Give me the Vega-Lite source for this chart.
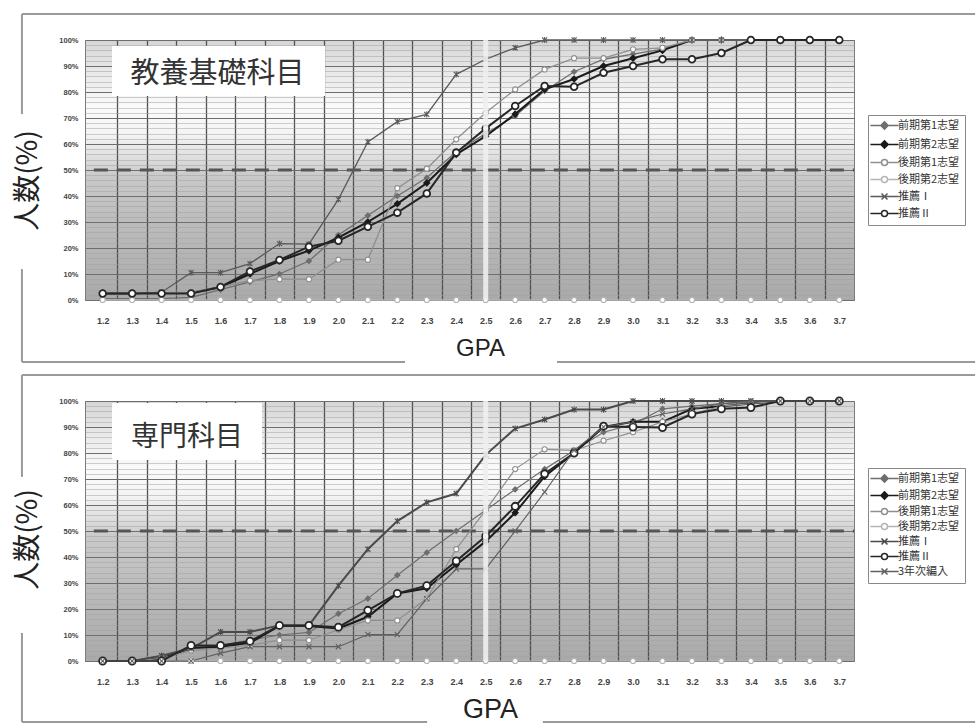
{
"$schema":"https://vega.github.io/schema/vega-lite/v6.json",
"background":"white",
"padding":{"left":13,"top":12,"right":0,"bottom":0},
"spacing":9,
"datasets":{
"top":[
{"gpa":1.2,"series":"前期第1志望","pct":0.5},{"gpa":1.3,"series":"前期第1志望","pct":0.5},{"gpa":1.4,"series":"前期第1志望","pct":0.5},{"gpa":1.5,"series":"前期第1志望","pct":1},{"gpa":1.6,"series":"前期第1志望","pct":4},{"gpa":1.7,"series":"前期第1志望","pct":7},{"gpa":1.8,"series":"前期第1志望","pct":10},{"gpa":1.9,"series":"前期第1志望","pct":15},{"gpa":2.0,"series":"前期第1志望","pct":25},{"gpa":2.1,"series":"前期第1志望","pct":32.5},{"gpa":2.2,"series":"前期第1志望","pct":40},{"gpa":2.3,"series":"前期第1志望","pct":47},{"gpa":2.4,"series":"前期第1志望","pct":57},{"gpa":2.5,"series":"前期第1志望","pct":64},{"gpa":2.6,"series":"前期第1志望","pct":70.8},{"gpa":2.7,"series":"前期第1志望","pct":80.4},{"gpa":2.8,"series":"前期第1志望","pct":87.8},{"gpa":2.9,"series":"前期第1志望","pct":92.6},{"gpa":3.0,"series":"前期第1志望","pct":94.6},{"gpa":3.1,"series":"前期第1志望","pct":96.5},{"gpa":3.2,"series":"前期第1志望","pct":100},{"gpa":3.3,"series":"前期第1志望","pct":100},{"gpa":3.4,"series":"前期第1志望","pct":100},{"gpa":3.5,"series":"前期第1志望","pct":100},{"gpa":3.6,"series":"前期第1志望","pct":100},{"gpa":3.7,"series":"前期第1志望","pct":100},
{"gpa":1.2,"series":"前期第2志望","pct":2.7},{"gpa":1.3,"series":"前期第2志望","pct":2.7},{"gpa":1.4,"series":"前期第2志望","pct":2.7},{"gpa":1.5,"series":"前期第2志望","pct":2.7},{"gpa":1.6,"series":"前期第2志望","pct":5},{"gpa":1.7,"series":"前期第2志望","pct":10},{"gpa":1.8,"series":"前期第2志望","pct":15},{"gpa":1.9,"series":"前期第2志望","pct":19},{"gpa":2.0,"series":"前期第2志望","pct":24},{"gpa":2.1,"series":"前期第2志望","pct":30},{"gpa":2.2,"series":"前期第2志望","pct":37},{"gpa":2.3,"series":"前期第2志望","pct":45},{"gpa":2.4,"series":"前期第2志望","pct":56},{"gpa":2.5,"series":"前期第2志望","pct":63},{"gpa":2.6,"series":"前期第2志望","pct":71.5},{"gpa":2.7,"series":"前期第2志望","pct":81},{"gpa":2.8,"series":"前期第2志望","pct":85},{"gpa":2.9,"series":"前期第2志望","pct":90},{"gpa":3.0,"series":"前期第2志望","pct":93},{"gpa":3.1,"series":"前期第2志望","pct":96},{"gpa":3.2,"series":"前期第2志望","pct":100},{"gpa":3.3,"series":"前期第2志望","pct":100},{"gpa":3.4,"series":"前期第2志望","pct":100},{"gpa":3.5,"series":"前期第2志望","pct":100},{"gpa":3.6,"series":"前期第2志望","pct":100},{"gpa":3.7,"series":"前期第2志望","pct":100},
{"gpa":1.2,"series":"後期第1志望","pct":2.7},{"gpa":1.3,"series":"後期第1志望","pct":2.7},{"gpa":1.4,"series":"後期第1志望","pct":2.7},{"gpa":1.5,"series":"後期第1志望","pct":3},{"gpa":1.6,"series":"後期第1志望","pct":5},{"gpa":1.7,"series":"後期第1志望","pct":7.5},{"gpa":1.8,"series":"後期第1志望","pct":8},{"gpa":1.9,"series":"後期第1志望","pct":8},{"gpa":2.0,"series":"後期第1志望","pct":15.5},{"gpa":2.1,"series":"後期第1志望","pct":15.5},{"gpa":2.2,"series":"後期第1志望","pct":43},{"gpa":2.3,"series":"後期第1志望","pct":50.5},{"gpa":2.4,"series":"後期第1志望","pct":61.8},{"gpa":2.5,"series":"後期第1志望","pct":72},{"gpa":2.6,"series":"後期第1志望","pct":81},{"gpa":2.7,"series":"後期第1志望","pct":88.7},{"gpa":2.8,"series":"後期第1志望","pct":93},{"gpa":2.9,"series":"後期第1志望","pct":93},{"gpa":3.0,"series":"後期第1志望","pct":96.4},{"gpa":3.1,"series":"後期第1志望","pct":97},{"gpa":3.2,"series":"後期第1志望","pct":100},{"gpa":3.3,"series":"後期第1志望","pct":100},{"gpa":3.4,"series":"後期第1志望","pct":100},{"gpa":3.5,"series":"後期第1志望","pct":100},{"gpa":3.6,"series":"後期第1志望","pct":100},{"gpa":3.7,"series":"後期第1志望","pct":100},
{"gpa":1.2,"series":"後期第2志望","pct":0},{"gpa":1.3,"series":"後期第2志望","pct":0},{"gpa":1.4,"series":"後期第2志望","pct":0},{"gpa":1.5,"series":"後期第2志望","pct":0},{"gpa":1.6,"series":"後期第2志望","pct":0},{"gpa":1.7,"series":"後期第2志望","pct":0},{"gpa":1.8,"series":"後期第2志望","pct":0},{"gpa":1.9,"series":"後期第2志望","pct":0},{"gpa":2.0,"series":"後期第2志望","pct":0},{"gpa":2.1,"series":"後期第2志望","pct":0},{"gpa":2.2,"series":"後期第2志望","pct":0},{"gpa":2.3,"series":"後期第2志望","pct":0},{"gpa":2.4,"series":"後期第2志望","pct":0},{"gpa":2.5,"series":"後期第2志望","pct":0},{"gpa":2.6,"series":"後期第2志望","pct":0},{"gpa":2.7,"series":"後期第2志望","pct":0},{"gpa":2.8,"series":"後期第2志望","pct":0},{"gpa":2.9,"series":"後期第2志望","pct":0},{"gpa":3.0,"series":"後期第2志望","pct":0},{"gpa":3.1,"series":"後期第2志望","pct":0},{"gpa":3.2,"series":"後期第2志望","pct":0},{"gpa":3.3,"series":"後期第2志望","pct":0},{"gpa":3.4,"series":"後期第2志望","pct":0},{"gpa":3.5,"series":"後期第2志望","pct":0},{"gpa":3.6,"series":"後期第2志望","pct":0},{"gpa":3.7,"series":"後期第2志望","pct":0},
{"gpa":1.2,"series":"推薦Ⅰ","pct":2.3},{"gpa":1.3,"series":"推薦Ⅰ","pct":2.3},{"gpa":1.4,"series":"推薦Ⅰ","pct":3},{"gpa":1.5,"series":"推薦Ⅰ","pct":10.5},{"gpa":1.6,"series":"推薦Ⅰ","pct":10.5},{"gpa":1.7,"series":"推薦Ⅰ","pct":14},{"gpa":1.8,"series":"推薦Ⅰ","pct":21.7},{"gpa":1.9,"series":"推薦Ⅰ","pct":21.5},{"gpa":2.0,"series":"推薦Ⅰ","pct":38.7},{"gpa":2.1,"series":"推薦Ⅰ","pct":60.8},{"gpa":2.2,"series":"推薦Ⅰ","pct":68.6},{"gpa":2.3,"series":"推薦Ⅰ","pct":71.4},{"gpa":2.4,"series":"推薦Ⅰ","pct":86.8},{"gpa":2.5,"series":"推薦Ⅰ","pct":92.6},{"gpa":2.6,"series":"推薦Ⅰ","pct":97},{"gpa":2.7,"series":"推薦Ⅰ","pct":100},{"gpa":2.8,"series":"推薦Ⅰ","pct":100},{"gpa":2.9,"series":"推薦Ⅰ","pct":100},{"gpa":3.0,"series":"推薦Ⅰ","pct":100},{"gpa":3.1,"series":"推薦Ⅰ","pct":100},{"gpa":3.2,"series":"推薦Ⅰ","pct":100},{"gpa":3.3,"series":"推薦Ⅰ","pct":100},{"gpa":3.4,"series":"推薦Ⅰ","pct":100},{"gpa":3.5,"series":"推薦Ⅰ","pct":100},{"gpa":3.6,"series":"推薦Ⅰ","pct":100},{"gpa":3.7,"series":"推薦Ⅰ","pct":100},
{"gpa":1.2,"series":"推薦Ⅱ","pct":2.5},{"gpa":1.3,"series":"推薦Ⅱ","pct":2.5},{"gpa":1.4,"series":"推薦Ⅱ","pct":2.5},{"gpa":1.5,"series":"推薦Ⅱ","pct":2.5},{"gpa":1.6,"series":"推薦Ⅱ","pct":5},{"gpa":1.7,"series":"推薦Ⅱ","pct":11},{"gpa":1.8,"series":"推薦Ⅱ","pct":15.4},{"gpa":1.9,"series":"推薦Ⅱ","pct":20.5},{"gpa":2.0,"series":"推薦Ⅱ","pct":22.8},{"gpa":2.1,"series":"推薦Ⅱ","pct":28.2},{"gpa":2.2,"series":"推薦Ⅱ","pct":33.6},{"gpa":2.3,"series":"推薦Ⅱ","pct":41},{"gpa":2.4,"series":"推薦Ⅱ","pct":56.7},{"gpa":2.5,"series":"推薦Ⅱ","pct":66},{"gpa":2.6,"series":"推薦Ⅱ","pct":74.6},{"gpa":2.7,"series":"推薦Ⅱ","pct":82.3},{"gpa":2.8,"series":"推薦Ⅱ","pct":82},{"gpa":2.9,"series":"推薦Ⅱ","pct":87.4},{"gpa":3.0,"series":"推薦Ⅱ","pct":90},{"gpa":3.1,"series":"推薦Ⅱ","pct":92.6},{"gpa":3.2,"series":"推薦Ⅱ","pct":92.6},{"gpa":3.3,"series":"推薦Ⅱ","pct":95},{"gpa":3.4,"series":"推薦Ⅱ","pct":100},{"gpa":3.5,"series":"推薦Ⅱ","pct":100},{"gpa":3.6,"series":"推薦Ⅱ","pct":100},{"gpa":3.7,"series":"推薦Ⅱ","pct":100}
],
"bottom":[
{"gpa":1.2,"series":"前期第1志望","pct":0},{"gpa":1.3,"series":"前期第1志望","pct":0},{"gpa":1.4,"series":"前期第1志望","pct":2},{"gpa":1.5,"series":"前期第1志望","pct":5},{"gpa":1.6,"series":"前期第1志望","pct":6},{"gpa":1.7,"series":"前期第1志望","pct":8},{"gpa":1.8,"series":"前期第1志望","pct":10},{"gpa":1.9,"series":"前期第1志望","pct":11},{"gpa":2.0,"series":"前期第1志望","pct":18.2},{"gpa":2.1,"series":"前期第1志望","pct":24},{"gpa":2.2,"series":"前期第1志望","pct":33},{"gpa":2.3,"series":"前期第1志望","pct":41.7},{"gpa":2.4,"series":"前期第1志望","pct":50},{"gpa":2.5,"series":"前期第1志望","pct":58},{"gpa":2.6,"series":"前期第1志望","pct":66},{"gpa":2.7,"series":"前期第1志望","pct":73.8},{"gpa":2.8,"series":"前期第1志望","pct":81},{"gpa":2.9,"series":"前期第1志望","pct":88},{"gpa":3.0,"series":"前期第1志望","pct":91},{"gpa":3.1,"series":"前期第1志望","pct":97},{"gpa":3.2,"series":"前期第1志望","pct":98},{"gpa":3.3,"series":"前期第1志望","pct":99},{"gpa":3.4,"series":"前期第1志望","pct":99.5},{"gpa":3.5,"series":"前期第1志望","pct":100},{"gpa":3.6,"series":"前期第1志望","pct":100},{"gpa":3.7,"series":"前期第1志望","pct":100},
{"gpa":1.2,"series":"前期第2志望","pct":0},{"gpa":1.3,"series":"前期第2志望","pct":0},{"gpa":1.4,"series":"前期第2志望","pct":1},{"gpa":1.5,"series":"前期第2志望","pct":5},{"gpa":1.6,"series":"前期第2志望","pct":5.5},{"gpa":1.7,"series":"前期第2志望","pct":7},{"gpa":1.8,"series":"前期第2志望","pct":13.5},{"gpa":1.9,"series":"前期第2志望","pct":13.5},{"gpa":2.0,"series":"前期第2志望","pct":12.5},{"gpa":2.1,"series":"前期第2志望","pct":17},{"gpa":2.2,"series":"前期第2志望","pct":26},{"gpa":2.3,"series":"前期第2志望","pct":28},{"gpa":2.4,"series":"前期第2志望","pct":37},{"gpa":2.5,"series":"前期第2志望","pct":46},{"gpa":2.6,"series":"前期第2志望","pct":57},{"gpa":2.7,"series":"前期第2志望","pct":71},{"gpa":2.8,"series":"前期第2志望","pct":80},{"gpa":2.9,"series":"前期第2志望","pct":90},{"gpa":3.0,"series":"前期第2志望","pct":92},{"gpa":3.1,"series":"前期第2志望","pct":92},{"gpa":3.2,"series":"前期第2志望","pct":97},{"gpa":3.3,"series":"前期第2志望","pct":98},{"gpa":3.4,"series":"前期第2志望","pct":99},{"gpa":3.5,"series":"前期第2志望","pct":100},{"gpa":3.6,"series":"前期第2志望","pct":100},{"gpa":3.7,"series":"前期第2志望","pct":100},
{"gpa":1.2,"series":"後期第1志望","pct":0},{"gpa":1.3,"series":"後期第1志望","pct":0},{"gpa":1.4,"series":"後期第1志望","pct":1},{"gpa":1.5,"series":"後期第1志望","pct":4},{"gpa":1.6,"series":"後期第1志望","pct":5},{"gpa":1.7,"series":"後期第1志望","pct":6},{"gpa":1.8,"series":"後期第1志望","pct":8},{"gpa":1.9,"series":"後期第1志望","pct":8},{"gpa":2.0,"series":"後期第1志望","pct":12},{"gpa":2.1,"series":"後期第1志望","pct":15.6},{"gpa":2.2,"series":"後期第1志望","pct":15.6},{"gpa":2.3,"series":"後期第1志望","pct":24},{"gpa":2.4,"series":"後期第1志望","pct":43},{"gpa":2.5,"series":"後期第1志望","pct":58},{"gpa":2.6,"series":"後期第1志望","pct":73.8},{"gpa":2.7,"series":"後期第1志望","pct":81.4},{"gpa":2.8,"series":"後期第1志望","pct":81},{"gpa":2.9,"series":"後期第1志望","pct":84.7},{"gpa":3.0,"series":"後期第1志望","pct":88},{"gpa":3.1,"series":"後期第1志望","pct":92},{"gpa":3.2,"series":"後期第1志望","pct":95},{"gpa":3.3,"series":"後期第1志望","pct":98},{"gpa":3.4,"series":"後期第1志望","pct":99},{"gpa":3.5,"series":"後期第1志望","pct":100},{"gpa":3.6,"series":"後期第1志望","pct":100},{"gpa":3.7,"series":"後期第1志望","pct":100},
{"gpa":1.2,"series":"後期第2志望","pct":0},{"gpa":1.3,"series":"後期第2志望","pct":0},{"gpa":1.4,"series":"後期第2志望","pct":0},{"gpa":1.5,"series":"後期第2志望","pct":0},{"gpa":1.6,"series":"後期第2志望","pct":0},{"gpa":1.7,"series":"後期第2志望","pct":0},{"gpa":1.8,"series":"後期第2志望","pct":0},{"gpa":1.9,"series":"後期第2志望","pct":0},{"gpa":2.0,"series":"後期第2志望","pct":0},{"gpa":2.1,"series":"後期第2志望","pct":0},{"gpa":2.2,"series":"後期第2志望","pct":0},{"gpa":2.3,"series":"後期第2志望","pct":0},{"gpa":2.4,"series":"後期第2志望","pct":0},{"gpa":2.5,"series":"後期第2志望","pct":0},{"gpa":2.6,"series":"後期第2志望","pct":0},{"gpa":2.7,"series":"後期第2志望","pct":0},{"gpa":2.8,"series":"後期第2志望","pct":0},{"gpa":2.9,"series":"後期第2志望","pct":0},{"gpa":3.0,"series":"後期第2志望","pct":0},{"gpa":3.1,"series":"後期第2志望","pct":0},{"gpa":3.2,"series":"後期第2志望","pct":0},{"gpa":3.3,"series":"後期第2志望","pct":0},{"gpa":3.4,"series":"後期第2志望","pct":0},{"gpa":3.5,"series":"後期第2志望","pct":0},{"gpa":3.6,"series":"後期第2志望","pct":0},{"gpa":3.7,"series":"後期第2志望","pct":0},
{"gpa":1.2,"series":"推薦Ⅰ","pct":0},{"gpa":1.3,"series":"推薦Ⅰ","pct":0},{"gpa":1.4,"series":"推薦Ⅰ","pct":2},{"gpa":1.5,"series":"推薦Ⅰ","pct":4.8},{"gpa":1.6,"series":"推薦Ⅰ","pct":11.2},{"gpa":1.7,"series":"推薦Ⅰ","pct":11.2},{"gpa":1.8,"series":"推薦Ⅰ","pct":13.7},{"gpa":1.9,"series":"推薦Ⅰ","pct":13.7},{"gpa":2.0,"series":"推薦Ⅰ","pct":29},{"gpa":2.1,"series":"推薦Ⅰ","pct":43},{"gpa":2.2,"series":"推薦Ⅰ","pct":53.8},{"gpa":2.3,"series":"推薦Ⅰ","pct":61},{"gpa":2.4,"series":"推薦Ⅰ","pct":64.4},{"gpa":2.5,"series":"推薦Ⅰ","pct":79.3},{"gpa":2.6,"series":"推薦Ⅰ","pct":89.4},{"gpa":2.7,"series":"推薦Ⅰ","pct":92.9},{"gpa":2.8,"series":"推薦Ⅰ","pct":96.7},{"gpa":2.9,"series":"推薦Ⅰ","pct":96.7},{"gpa":3.0,"series":"推薦Ⅰ","pct":100},{"gpa":3.1,"series":"推薦Ⅰ","pct":100},{"gpa":3.2,"series":"推薦Ⅰ","pct":100},{"gpa":3.3,"series":"推薦Ⅰ","pct":100},{"gpa":3.4,"series":"推薦Ⅰ","pct":100},{"gpa":3.5,"series":"推薦Ⅰ","pct":100},{"gpa":3.6,"series":"推薦Ⅰ","pct":100},{"gpa":3.7,"series":"推薦Ⅰ","pct":100},
{"gpa":1.2,"series":"推薦Ⅱ","pct":0},{"gpa":1.3,"series":"推薦Ⅱ","pct":0},{"gpa":1.4,"series":"推薦Ⅱ","pct":0},{"gpa":1.5,"series":"推薦Ⅱ","pct":6},{"gpa":1.6,"series":"推薦Ⅱ","pct":6},{"gpa":1.7,"series":"推薦Ⅱ","pct":7.6},{"gpa":1.8,"series":"推薦Ⅱ","pct":13.7},{"gpa":1.9,"series":"推薦Ⅱ","pct":13.7},{"gpa":2.0,"series":"推薦Ⅱ","pct":13},{"gpa":2.1,"series":"推薦Ⅱ","pct":19.5},{"gpa":2.2,"series":"推薦Ⅱ","pct":26},{"gpa":2.3,"series":"推薦Ⅱ","pct":29},{"gpa":2.4,"series":"推薦Ⅱ","pct":38.5},{"gpa":2.5,"series":"推薦Ⅱ","pct":48},{"gpa":2.6,"series":"推薦Ⅱ","pct":59.5},{"gpa":2.7,"series":"推薦Ⅱ","pct":72},{"gpa":2.8,"series":"推薦Ⅱ","pct":80},{"gpa":2.9,"series":"推薦Ⅱ","pct":90.3},{"gpa":3.0,"series":"推薦Ⅱ","pct":90},{"gpa":3.1,"series":"推薦Ⅱ","pct":89.8},{"gpa":3.2,"series":"推薦Ⅱ","pct":95},{"gpa":3.3,"series":"推薦Ⅱ","pct":97},{"gpa":3.4,"series":"推薦Ⅱ","pct":97.5},{"gpa":3.5,"series":"推薦Ⅱ","pct":100},{"gpa":3.6,"series":"推薦Ⅱ","pct":100},{"gpa":3.7,"series":"推薦Ⅱ","pct":100},
{"gpa":1.2,"series":"3年次編入","pct":0},{"gpa":1.3,"series":"3年次編入","pct":0},{"gpa":1.4,"series":"3年次編入","pct":0},{"gpa":1.5,"series":"3年次編入","pct":0},{"gpa":1.6,"series":"3年次編入","pct":3},{"gpa":1.7,"series":"3年次編入","pct":5.5},{"gpa":1.8,"series":"3年次編入","pct":5.5},{"gpa":1.9,"series":"3年次編入","pct":5.5},{"gpa":2.0,"series":"3年次編入","pct":5.5},{"gpa":2.1,"series":"3年次編入","pct":10.2},{"gpa":2.2,"series":"3年次編入","pct":10.2},{"gpa":2.3,"series":"3年次編入","pct":24},{"gpa":2.4,"series":"3年次編入","pct":35.4},{"gpa":2.5,"series":"3年次編入","pct":35.4},{"gpa":2.6,"series":"3年次編入","pct":50},{"gpa":2.7,"series":"3年次編入","pct":65},{"gpa":2.8,"series":"3年次編入","pct":81},{"gpa":2.9,"series":"3年次編入","pct":90},{"gpa":3.0,"series":"3年次編入","pct":92},{"gpa":3.1,"series":"3年次編入","pct":95},{"gpa":3.2,"series":"3年次編入","pct":97},{"gpa":3.3,"series":"3年次編入","pct":99},{"gpa":3.4,"series":"3年次編入","pct":100},{"gpa":3.5,"series":"3年次編入","pct":100},{"gpa":3.6,"series":"3年次編入","pct":100},{"gpa":3.7,"series":"3年次編入","pct":100}
]
},
"resolve":{"scale":{"stroke":"independent","fill":"independent","shape":"independent"},"legend":{"stroke":"independent","fill":"independent","shape":"independent"}},
"vconcat":[
{
"width":769,"height":260,
"view":{"stroke":"#7a7a7a","strokeWidth":1,"fill":{"gradient":"linear","x1":0,"y1":0,"x2":0,"y2":1,"stops":[{"offset":0,"color":"#d6d6d6"},{"offset":0.12,"color":"#e8e8e8"},{"offset":0.26,"color":"#fbfbfb"},{"offset":0.36,"color":"#f4f4f4"},{"offset":0.46,"color":"#dcdcdc"},{"offset":0.52,"color":"#c9c9c9"},{"offset":0.75,"color":"#b9b9b9"},{"offset":1,"color":"#a9a9a9"}]}},
"layer":[
{"data":{"values":[{}]},"mark":{"type":"rule","color":"#555555","strokeWidth":3,"strokeDash":[14,9]},
 "encoding":{"x":{"datum":1.17,"type":"quantitative","scale":{"domain":[1.14,3.75],"nice":false,"zero":false}},"x2":{"datum":3.75},"y":{"datum":50,"type":"quantitative","scale":{"domain":[0,100],"nice":false}}}},
{"data":{"values":[{}]},"mark":{"type":"rect","color":"#ffffff"},
 "encoding":{"x":{"datum":1.2317,"type":"quantitative"},"x2":{"datum":1.9547},"y":{"datum":97.7,"type":"quantitative"},"y2":{"datum":78.5}}},
{"data":{"values":[{}]},"mark":{"type":"text","text":"教養基礎科目","font":"Noto Sans CJK JP","fontSize":29,"color":"#333333","align":"center","baseline":"middle"},
 "encoding":{"x":{"datum":1.59,"type":"quantitative"},"y":{"datum":86.9,"type":"quantitative"}}},
{"data":{"name":"top"},"mark":{"type":"line"},
 "encoding":{
  "x":{"field":"gpa","type":"quantitative","scale":{"domain":[1.14,3.75],"nice":false,"zero":false},
   "axis":{"title":"GPA","titleFont":"Liberation Sans","titleFontSize":24,"titleFontWeight":"normal","titleColor":"#222222","titleX":395,"titleY":48,"titleBaseline":"middle","titleAlign":"center",
    "values":[1.2,1.25,1.3,1.35,1.4,1.45,1.5,1.55,1.6,1.65,1.7,1.75,1.8,1.85,1.9,1.95,2.0,2.05,2.1,2.15,2.2,2.25,2.3,2.35,2.4,2.45,2.5,2.55,2.6,2.65,2.7,2.75,2.8,2.85,2.9,2.95,3.0,3.05,3.1,3.15,3.2,3.25,3.3,3.35,3.4,3.45,3.5,3.55,3.6,3.65,3.7],"tickCount":200,
    "ticks":false,"domain":false,"labelPadding":16,"labelFont":"Liberation Sans","labelFontSize":9,"labelFontWeight":"bold","labelColor":"#444444","labelOverlap":false,"labelFlush":false,"labelBound":false,
    "labelExpr":"abs(round(datum.value*100)%10)===5 ? '' : format(datum.value,'.1f')",
    "grid":true,"gridColor":"#505050","gridWidth":1.3,
    "gridOpacity":{"condition":{"test":"abs(round(datum.value*100)%10)===5","value":1},"value":0}}},
  "y":{"field":"pct","type":"quantitative","scale":{"domain":[0,100],"nice":false},
   "axis":{"title":"人数(%)","titleFont":"Noto Sans CJK JP","titleFontSize":28,"titleFontWeight":"normal","titleColor":"#222222","titleX":-57,"titleY":140,"titleBaseline":"middle","titleAlign":"center",
    "values":[0,2,4,6,8,10,12,14,16,18,20,22,24,26,28,30,32,34,36,38,40,42,44,46,48,50,52,54,56,58,60,62,64,66,68,70,72,74,76,78,80,82,84,86,88,90,92,94,96,98,100],"tickCount":200,
    "ticks":false,"domain":false,"labelPadding":7,"labelFont":"Liberation Sans","labelFontSize":7.5,"labelFontWeight":"bold","labelColor":"#444444","labelOverlap":false,
    "labelExpr":"datum.value % 10 === 0 ? datum.value + '%' : ''",
    "grid":true,
    "gridColor":{"condition":{"test":"datum.value % 10 === 0","value":"#6e6e6e"},"value":"#a0a0a0"},
    "gridWidth":{"condition":{"test":"datum.value % 10 === 0","value":1},"value":0.5}}},
  "detail":{"field":"series","type":"nominal"},
  "stroke":{"condition":[{"test":"datum.series==='前期第1志望'","value":"#6e6e6e"},{"test":"datum.series==='前期第2志望'","value":"#1a1a1a"},{"test":"datum.series==='後期第1志望'","value":"#8f8f8f"},{"test":"datum.series==='後期第2志望'","value":"#b5b5b5"},{"test":"datum.series==='推薦Ⅰ'","value":"#5a5a5a"}],"value":"#262626"},
  "strokeWidth":{"condition":{"test":"datum.series==='推薦Ⅱ' || datum.series==='前期第2志望'","value":2},"value":1.3}
 }},
{"data":{"name":"top"},"mark":{"type":"point","opacity":1},
 "encoding":{
  "x":{"field":"gpa","type":"quantitative"},
  "y":{"field":"pct","type":"quantitative"},
  "stroke":{"field":"series","type":"nominal",
   "scale":{"domain":["前期第1志望","前期第2志望","後期第1志望","後期第2志望","推薦Ⅰ","推薦Ⅱ"],"range":["#6e6e6e","#1a1a1a","#8f8f8f","#b5b5b5","#5a5a5a","#262626"]},
   "legend":{"title":null,"orient":"none","legendX":783,"legendY":75,"symbolSize":36,"symbolOffset":6,"labelOffset":8,"symbolStrokeWidth":1.5,"labelFont":"Noto Sans CJK JP","labelFontSize":11,"labelColor":"#333333","padding":5,"rowPadding":4,"strokeColor":"#888888","fillColor":"#ffffff"}},
  "fill":{"condition":[{"test":"datum.series==='前期第1志望'","value":"#6e6e6e"},{"test":"datum.series==='前期第2志望'","value":"#1a1a1a"}],"value":"#ffffff"},
  "shape":{"condition":[{"test":"datum.series==='前期第1志望' || datum.series==='前期第2志望'","value":"diamond"},{"test":"datum.series==='推薦Ⅰ'","value":"M-1,-1L1,1M-1,1L1,-1M0,-1.2L0,1.2"}],"value":"circle"},
  "size":{"condition":{"test":"datum.series==='推薦Ⅱ'","value":45},"value":26},
  "strokeWidth":{"condition":{"test":"datum.series==='推薦Ⅱ' || datum.series==='前期第2志望'","value":1.8},"value":1.1}
 }},
{"data":{"name":"top"},"mark":{"type":"point","size":0},
 "encoding":{
  "x":{"field":"gpa","type":"quantitative"},
  "y":{"field":"pct","type":"quantitative"},
  "fill":{"field":"series","type":"nominal",
   "scale":{"domain":["前期第1志望","前期第2志望","後期第1志望","後期第2志望","推薦Ⅰ","推薦Ⅱ"],"range":["#6e6e6e","#1a1a1a","#ffffff","#ffffff","#ffffff","#ffffff"]}},
  "shape":{"field":"series","type":"nominal",
   "scale":{"domain":["前期第1志望","前期第2志望","後期第1志望","後期第2志望","推薦Ⅰ","推薦Ⅱ"],"range":["M-4.7,0H4.7M0,-1.2L1.2,0L0,1.2L-1.2,0Z","M-4.7,0H4.7M0,-1.2L1.2,0L0,1.2L-1.2,0Z","M-4.7,0H-1M1,0H4.7M1,0A1,1,0,1,1,-1,0A1,1,0,1,1,1,0Z","M-4.7,0H-1M1,0H4.7M1,0A1,1,0,1,1,-1,0A1,1,0,1,1,1,0Z","M-4.7,0H4.7M-1,-1L1,1M-1,1L1,-1","M-4.7,0H-1M1,0H4.7M1,0A1,1,0,1,1,-1,0A1,1,0,1,1,1,0Z"]}}
 }},
{"data":{"values":[{}]},"mark":{"type":"rule","color":"#eeeeee","strokeWidth":5,"opacity":0.9},
 "encoding":{"x":{"datum":2.5,"type":"quantitative"}}},
{"data":{"values":[{}]},"mark":{"type":"rule","color":"#9a9a9a","strokeWidth":2},
 "encoding":{"x":{"datum":0.926,"type":"quantitative"},"x2":{"datum":4.161},"y":{"datum":110,"type":"quantitative"}}},
{"data":{"values":[{}]},"mark":{"type":"rule","color":"#9a9a9a","strokeWidth":2},
 "encoding":{"x":{"datum":0.926,"type":"quantitative"},"y":{"datum":110,"type":"quantitative"},"y2":{"datum":71.5}}},
{"data":{"values":[{}]},"mark":{"type":"rule","color":"#9a9a9a","strokeWidth":2},
 "encoding":{"x":{"datum":0.926,"type":"quantitative"},"y":{"datum":11.9,"type":"quantitative"},"y2":{"datum":-23.85}}},
{"data":{"values":[{}]},"mark":{"type":"rule","color":"#9a9a9a","strokeWidth":2},
 "encoding":{"x":{"datum":0.926,"type":"quantitative"},"x2":{"datum":2.226},"y":{"datum":-23.85,"type":"quantitative"}}},
{"data":{"values":[{}]},"mark":{"type":"rule","color":"#9a9a9a","strokeWidth":2},
 "encoding":{"x":{"datum":2.742,"type":"quantitative"},"x2":{"datum":4.161},"y":{"datum":-23.85,"type":"quantitative"}}}
]
},
{
"width":769,"height":260,
"view":{"stroke":"#7a7a7a","strokeWidth":1,"fill":{"gradient":"linear","x1":0,"y1":0,"x2":0,"y2":1,"stops":[{"offset":0,"color":"#d6d6d6"},{"offset":0.12,"color":"#e8e8e8"},{"offset":0.26,"color":"#fbfbfb"},{"offset":0.36,"color":"#f4f4f4"},{"offset":0.46,"color":"#dcdcdc"},{"offset":0.52,"color":"#c9c9c9"},{"offset":0.75,"color":"#b9b9b9"},{"offset":1,"color":"#a9a9a9"}]}},
"layer":[
{"data":{"values":[{}]},"mark":{"type":"rule","color":"#555555","strokeWidth":3,"strokeDash":[14,9]},
 "encoding":{"x":{"datum":1.17,"type":"quantitative","scale":{"domain":[1.14,3.75],"nice":false,"zero":false}},"x2":{"datum":3.75},"y":{"datum":50,"type":"quantitative","scale":{"domain":[0,100],"nice":false}}}},
{"data":{"values":[{}]},"mark":{"type":"rect","color":"#ffffff"},
 "encoding":{"x":{"datum":1.2317,"type":"quantitative"},"x2":{"datum":1.741},"y":{"datum":99.2,"type":"quantitative"},"y2":{"datum":77.3}}},
{"data":{"values":[{}]},"mark":{"type":"text","text":"専門科目","font":"Noto Sans CJK JP","fontSize":28,"color":"#333333","align":"center","baseline":"middle"},
 "encoding":{"x":{"datum":1.486,"type":"quantitative"},"y":{"datum":85.8,"type":"quantitative"}}},
{"data":{"name":"bottom"},"mark":{"type":"line"},
 "encoding":{
  "x":{"field":"gpa","type":"quantitative","scale":{"domain":[1.14,3.75],"nice":false,"zero":false},
   "axis":{"title":"GPA","titleFont":"Liberation Sans","titleFontSize":27,"titleFontWeight":"normal","titleColor":"#222222","titleX":405,"titleY":48,"titleBaseline":"middle","titleAlign":"center",
    "values":[1.2,1.25,1.3,1.35,1.4,1.45,1.5,1.55,1.6,1.65,1.7,1.75,1.8,1.85,1.9,1.95,2.0,2.05,2.1,2.15,2.2,2.25,2.3,2.35,2.4,2.45,2.5,2.55,2.6,2.65,2.7,2.75,2.8,2.85,2.9,2.95,3.0,3.05,3.1,3.15,3.2,3.25,3.3,3.35,3.4,3.45,3.5,3.55,3.6,3.65,3.7],"tickCount":200,
    "ticks":false,"domain":false,"labelPadding":16,"labelFont":"Liberation Sans","labelFontSize":9,"labelFontWeight":"bold","labelColor":"#444444","labelOverlap":false,"labelFlush":false,"labelBound":false,
    "labelExpr":"abs(round(datum.value*100)%10)===5 ? '' : format(datum.value,'.1f')",
    "grid":true,"gridColor":"#505050","gridWidth":1.3,
    "gridOpacity":{"condition":{"test":"abs(round(datum.value*100)%10)===5","value":1},"value":0}}},
  "y":{"field":"pct","type":"quantitative","scale":{"domain":[0,100],"nice":false},
   "axis":{"title":"人数(%)","titleFont":"Noto Sans CJK JP","titleFontSize":28,"titleFontWeight":"normal","titleColor":"#222222","titleX":-57,"titleY":138,"titleBaseline":"middle","titleAlign":"center",
    "values":[0,2,4,6,8,10,12,14,16,18,20,22,24,26,28,30,32,34,36,38,40,42,44,46,48,50,52,54,56,58,60,62,64,66,68,70,72,74,76,78,80,82,84,86,88,90,92,94,96,98,100],"tickCount":200,
    "ticks":false,"domain":false,"labelPadding":7,"labelFont":"Liberation Sans","labelFontSize":7.5,"labelFontWeight":"bold","labelColor":"#444444","labelOverlap":false,
    "labelExpr":"datum.value % 10 === 0 ? datum.value + '%' : ''",
    "grid":true,
    "gridColor":{"condition":{"test":"datum.value % 10 === 0","value":"#6e6e6e"},"value":"#a0a0a0"},
    "gridWidth":{"condition":{"test":"datum.value % 10 === 0","value":1},"value":0.5}}},
  "detail":{"field":"series","type":"nominal"},
  "stroke":{"condition":[{"test":"datum.series==='前期第1志望'","value":"#6e6e6e"},{"test":"datum.series==='前期第2志望'","value":"#1a1a1a"},{"test":"datum.series==='後期第1志望'","value":"#8f8f8f"},{"test":"datum.series==='後期第2志望'","value":"#b5b5b5"},{"test":"datum.series==='推薦Ⅰ'","value":"#4a4a4a"},{"test":"datum.series==='3年次編入'","value":"#606060"}],"value":"#262626"},
  "strokeWidth":{"condition":{"test":"datum.series==='推薦Ⅱ' || datum.series==='前期第2志望' || datum.series==='推薦Ⅰ'","value":2},"value":1.2}
 }},
{"data":{"name":"bottom"},"mark":{"type":"point","opacity":1},
 "encoding":{
  "x":{"field":"gpa","type":"quantitative"},
  "y":{"field":"pct","type":"quantitative"},
  "stroke":{"field":"series","type":"nominal",
   "scale":{"domain":["前期第1志望","前期第2志望","後期第1志望","後期第2志望","推薦Ⅰ","推薦Ⅱ","3年次編入"],"range":["#6e6e6e","#1a1a1a","#8f8f8f","#b5b5b5","#4a4a4a","#262626","#606060"]},
   "legend":{"title":null,"orient":"none","legendX":783,"legendY":67,"symbolSize":36,"symbolOffset":6,"labelOffset":8,"symbolStrokeWidth":1.5,"labelFont":"Noto Sans CJK JP","labelFontSize":11,"labelColor":"#333333","padding":5,"rowPadding":2,"strokeColor":"#888888","fillColor":"#ffffff"}},
  "fill":{"condition":[{"test":"datum.series==='前期第1志望'","value":"#6e6e6e"},{"test":"datum.series==='前期第2志望'","value":"#1a1a1a"}],"value":"#ffffff"},
  "shape":{"condition":[{"test":"datum.series==='前期第1志望' || datum.series==='前期第2志望'","value":"diamond"},{"test":"datum.series==='推薦Ⅰ'","value":"M-1,-1L1,1M-1,1L1,-1M0,-1.2L0,1.2"},{"test":"datum.series==='3年次編入'","value":"M-1,-1L1,1M-1,1L1,-1"}],"value":"circle"},
  "size":{"condition":{"test":"datum.series==='推薦Ⅱ'","value":50},"value":26},
  "strokeWidth":{"condition":{"test":"datum.series==='推薦Ⅱ' || datum.series==='前期第2志望'","value":1.8},"value":1.1}
 }},
{"data":{"name":"bottom"},"mark":{"type":"point","size":0},
 "encoding":{
  "x":{"field":"gpa","type":"quantitative"},
  "y":{"field":"pct","type":"quantitative"},
  "fill":{"field":"series","type":"nominal",
   "scale":{"domain":["前期第1志望","前期第2志望","後期第1志望","後期第2志望","推薦Ⅰ","推薦Ⅱ","3年次編入"],"range":["#6e6e6e","#1a1a1a","#ffffff","#ffffff","#ffffff","#ffffff","#ffffff"]}},
  "shape":{"field":"series","type":"nominal",
   "scale":{"domain":["前期第1志望","前期第2志望","後期第1志望","後期第2志望","推薦Ⅰ","推薦Ⅱ","3年次編入"],"range":["M-4.7,0H4.7M0,-1.2L1.2,0L0,1.2L-1.2,0Z","M-4.7,0H4.7M0,-1.2L1.2,0L0,1.2L-1.2,0Z","M-4.7,0H-1M1,0H4.7M1,0A1,1,0,1,1,-1,0A1,1,0,1,1,1,0Z","M-4.7,0H-1M1,0H4.7M1,0A1,1,0,1,1,-1,0A1,1,0,1,1,1,0Z","M-4.7,0H4.7M-1,-1L1,1M-1,1L1,-1","M-4.7,0H-1M1,0H4.7M1,0A1,1,0,1,1,-1,0A1,1,0,1,1,1,0Z","M-4.7,0H4.7M-1,-1L1,1M-1,1L1,-1"]}}
 }},
{"data":{"values":[{}]},"mark":{"type":"rule","color":"#eeeeee","strokeWidth":5,"opacity":0.9},
 "encoding":{"x":{"datum":2.5,"type":"quantitative"}}},
{"data":{"values":[{}]},"mark":{"type":"rule","color":"#9a9a9a","strokeWidth":2},
 "encoding":{"x":{"datum":0.926,"type":"quantitative"},"x2":{"datum":4.161},"y":{"datum":110,"type":"quantitative"}}},
{"data":{"values":[{}]},"mark":{"type":"rule","color":"#9a9a9a","strokeWidth":2},
 "encoding":{"x":{"datum":0.926,"type":"quantitative"},"y":{"datum":110,"type":"quantitative"},"y2":{"datum":70.8}}},
{"data":{"values":[{}]},"mark":{"type":"rule","color":"#9a9a9a","strokeWidth":2},
 "encoding":{"x":{"datum":0.926,"type":"quantitative"},"y":{"datum":10.8,"type":"quantitative"},"y2":{"datum":-23.46}}},
{"data":{"values":[{}]},"mark":{"type":"rule","color":"#9a9a9a","strokeWidth":2},
 "encoding":{"x":{"datum":0.926,"type":"quantitative"},"x2":{"datum":2.301},"y":{"datum":-23.46,"type":"quantitative"}}},
{"data":{"values":[{}]},"mark":{"type":"rule","color":"#9a9a9a","strokeWidth":2},
 "encoding":{"x":{"datum":2.694,"type":"quantitative"},"x2":{"datum":4.161},"y":{"datum":-23.46,"type":"quantitative"}}}
]
}
],
"config":{"font":"Liberation Sans"}
}
